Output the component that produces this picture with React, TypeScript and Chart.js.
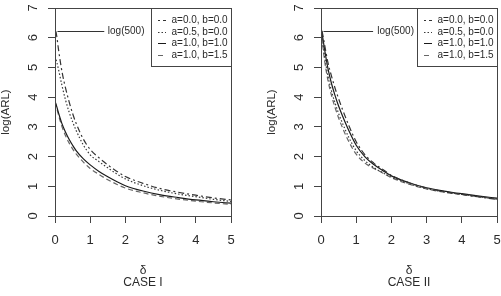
import { useEffect, useRef } from 'react';
import { Chart, registerables } from 'chart.js';

Chart.register(...registerables);

// Shift sizes (δ) at which log(ARL) is tabulated
const DELTA = [0, 0.05, 0.1, 0.2, 0.3, 0.4, 0.5, 0.6, 0.8, 1.0, 1.25, 1.5, 1.75, 2, 2.5, 3, 3.5, 4, 4.5, 5];

const SERIES_LABELS = ['a=0.0, b=0.0', 'a=0.5, b=0.0', 'a=1.0, b=1.0', 'a=1.0, b=1.5'];

// CASE I
const CASE1_A00_B00 = [6.38, 6.05, 5.6, 4.85, 4.3, 3.85, 3.45, 3.12, 2.6, 2.24, 1.96, 1.72, 1.51, 1.33, 1.1, 0.92, 0.8, 0.7, 0.61, 0.54];
const CASE1_A05_B00 = [5.37, 5.18, 4.93, 4.38, 3.9, 3.5, 3.17, 2.88, 2.4, 2.06, 1.83, 1.62, 1.42, 1.25, 1.02, 0.86, 0.74, 0.65, 0.56, 0.49];
const CASE1_A10_B10 = [3.86, 3.68, 3.47, 3.1, 2.82, 2.58, 2.38, 2.2, 1.93, 1.72, 1.5, 1.32, 1.16, 1.02, 0.84, 0.71, 0.62, 0.54, 0.48, 0.43];
const CASE1_A10_B15 = [3.84, 3.63, 3.4, 3.0, 2.7, 2.46, 2.26, 2.09, 1.82, 1.6, 1.4, 1.22, 1.07, 0.94, 0.78, 0.66, 0.57, 0.5, 0.44, 0.39];

// CASE II
const CASE2_A00_B00 = [6.38, 6.1, 5.78, 5.15, 4.7, 4.3, 3.95, 3.62, 3.02, 2.5, 2.06, 1.78, 1.57, 1.37, 1.12, 0.94, 0.82, 0.73, 0.64, 0.56];
const CASE2_A05_B00 = [6.32, 5.85, 5.4, 4.7, 4.2, 3.8, 3.45, 3.15, 2.62, 2.2, 1.86, 1.63, 1.46, 1.31, 1.09, 0.92, 0.81, 0.73, 0.65, 0.58];
const CASE2_A10_B10 = [6.36, 6.0, 5.62, 4.95, 4.45, 4.05, 3.7, 3.4, 2.85, 2.38, 1.99, 1.73, 1.53, 1.35, 1.12, 0.95, 0.84, 0.75, 0.67, 0.6];
const CASE2_A10_B15 = [6.3, 5.75, 5.25, 4.55, 4.05, 3.65, 3.3, 3.0, 2.48, 2.08, 1.78, 1.6, 1.45, 1.29, 1.07, 0.91, 0.8, 0.72, 0.64, 0.57];

const X_TICKS = [0, 1, 2, 3, 4, 5];
const Y_TICKS = [0, 1, 2, 3, 4, 5, 6, 7];
const LOG_500 = Math.log(500);

const FONT = '"Liberation Sans", Arial, Helvetica, sans-serif';
const INK = '#2a2a2a';
const FRAME = '#444';

// dot-dash, dotted, solid, dashed
const LINE_STYLES = [
  { dash: [2, 3, 6, 3], color: '#333' },
  { dash: [1.5, 2], color: '#3a3a3a' },
  { dash: [] as number[], color: '#1a1a1a' },
  { dash: [5, 3], color: '#666' },
];

const W = 266;
const H = 296;

const decorPlugin = {
  id: 'panelDecor',
  afterDraw(chart: any, _args: any, opts: any) {
    const { ctx, chartArea: a } = chart;
    const x = chart.scales.x;
    const y = chart.scales.y;
    ctx.save();

    // plot frame
    ctx.setLineDash([]);
    ctx.lineWidth = 1;
    ctx.strokeStyle = FRAME;
    ctx.strokeRect(a.left + 0.5, a.top + 0.5, a.right - a.left, a.bottom - a.top);

    ctx.fillStyle = INK;

    // y tick labels, parallel to the axis
    ctx.font = `13px ${FONT}`;
    ctx.textAlign = 'center';
    ctx.textBaseline = 'alphabetic';
    for (const v of Y_TICKS) {
      const py = y.getPixelForValue(v);
      ctx.save();
      ctx.translate(a.left - 18, py);
      ctx.rotate(-Math.PI / 2);
      ctx.fillText(String(v), 0, 0);
      ctx.restore();
    }

    // x tick labels
    for (const v of X_TICKS) {
      ctx.fillText(String(v), x.getPixelForValue(v), a.bottom + 28);
    }

    // axis titles
    const cx = (a.left + a.right) / 2;
    ctx.font = `11.5px ${FONT}`;
    ctx.save();
    ctx.translate(a.left - 46, (a.top + a.bottom) / 2);
    ctx.rotate(-Math.PI / 2);
    ctx.fillText('log(ARL)', 0, 0);
    ctx.restore();

    ctx.font = `12px ${FONT}`;
    ctx.fillText('δ', cx, a.bottom + 58);
    ctx.fillText(opts.caseTitle, cx, a.bottom + 70);

    // log(500) reference mark
    const ly = Math.round(y.getPixelForValue(LOG_500)) + 0.5;
    ctx.strokeStyle = '#333';
    ctx.beginPath();
    ctx.moveTo(x.getPixelForValue(opts.markFrom), ly);
    ctx.lineTo(x.getPixelForValue(opts.markTo), ly);
    ctx.stroke();
    ctx.font = `10px ${FONT}`;
    ctx.textAlign = 'left';
    ctx.textBaseline = 'middle';
    ctx.fillText('log(500)', x.getPixelForValue(opts.markText), ly);

    // legend
    const bw = 80;
    const bh = 58;
    const bx = a.right - bw;
    ctx.strokeStyle = FRAME;
    ctx.fillStyle = '#fff';
    ctx.fillRect(bx + 0.5, a.top + 0.5, bw, bh);
    ctx.strokeRect(bx + 0.5, a.top + 0.5, bw, bh);
    chart.data.datasets.forEach((ds: any, i: number) => {
      const ey = Math.round(a.top + 12 + i * 11.67) + 0.5;
      ctx.strokeStyle = ds.borderColor;
      ctx.lineWidth = 1;
      ctx.setLineDash(ds.borderDash || []);
      ctx.beginPath();
      ctx.moveTo(bx + 7, ey);
      ctx.lineTo(bx + 15, ey);
      ctx.stroke();
      ctx.setLineDash([]);
      ctx.fillStyle = INK;
      ctx.fillText(ds.label, bx + 20.5, ey);
    });

    ctx.restore();
  },
};

type PanelProps = {
  left: number;
  series: number[][];
  caseTitle: string;
  markTo: number;
  markText: number;
};

function Panel({ left, series, caseTitle, markTo, markText }: PanelProps) {
  const ref = useRef<HTMLCanvasElement | null>(null);

  useEffect(() => {
    if (!ref.current) return;
    const chart = new Chart(ref.current, {
      type: 'line',
      data: {
        datasets: series.map((vals, i) => ({
          label: SERIES_LABELS[i],
          data: DELTA.map((d, k) => ({ x: d, y: vals[k] })),
          borderColor: LINE_STYLES[i].color,
          borderDash: LINE_STYLES[i].dash,
          borderWidth: 1.2,
          pointRadius: 0,
          fill: false,
          cubicInterpolationMode: 'monotone' as const,
        })),
      },
      options: {
        animation: false,
        responsive: false,
        devicePixelRatio: 1,
        layout: { padding: { top: 8, right: 35, left: 0, bottom: 0 } },
        plugins: {
          legend: { display: false },
          tooltip: { enabled: false },
          panelDecor: { caseTitle, markFrom: 0.07, markTo, markText },
        } as any,
        scales: {
          x: {
            type: 'linear',
            min: 0,
            max: 5,
            ticks: { display: false, stepSize: 1 },
            grid: { drawOnChartArea: false, drawTicks: true, tickLength: 7, color: FRAME },
            border: { display: false },
            afterFit: (s: any) => {
              s.height = 80;
            },
          },
          y: {
            type: 'linear',
            min: 0,
            max: 7,
            ticks: { display: false, stepSize: 1 },
            grid: { drawOnChartArea: false, drawTicks: true, tickLength: 7, color: FRAME },
            border: { display: false },
            afterFit: (s: any) => {
              s.width = 55;
            },
          },
        },
      } as any,
      plugins: [decorPlugin],
    });
    return () => chart.destroy();
  }, []);

  return (
    <canvas
      ref={ref}
      width={W}
      height={H}
      style={{ position: 'absolute', left, top: 0, width: W, height: H }}
    />
  );
}

export default function App() {
  return (
    <div
      style={{
        position: 'fixed',
        left: 0,
        top: 0,
        width: 501,
        height: 296,
        overflow: 'hidden',
        background: '#fff',
      }}
    >
      <Panel
        left={0}
        series={[CASE1_A00_B00, CASE1_A05_B00, CASE1_A10_B10, CASE1_A10_B15]}
        caseTitle="CASE I"
        markTo={1.4}
        markText={1.5}
      />
      <Panel
        left={266}
        series={[CASE2_A00_B00, CASE2_A05_B00, CASE2_A10_B10, CASE2_A10_B15]}
        caseTitle="CASE II"
        markTo={1.48}
        markText={1.6}
      />
    </div>
  );
}
